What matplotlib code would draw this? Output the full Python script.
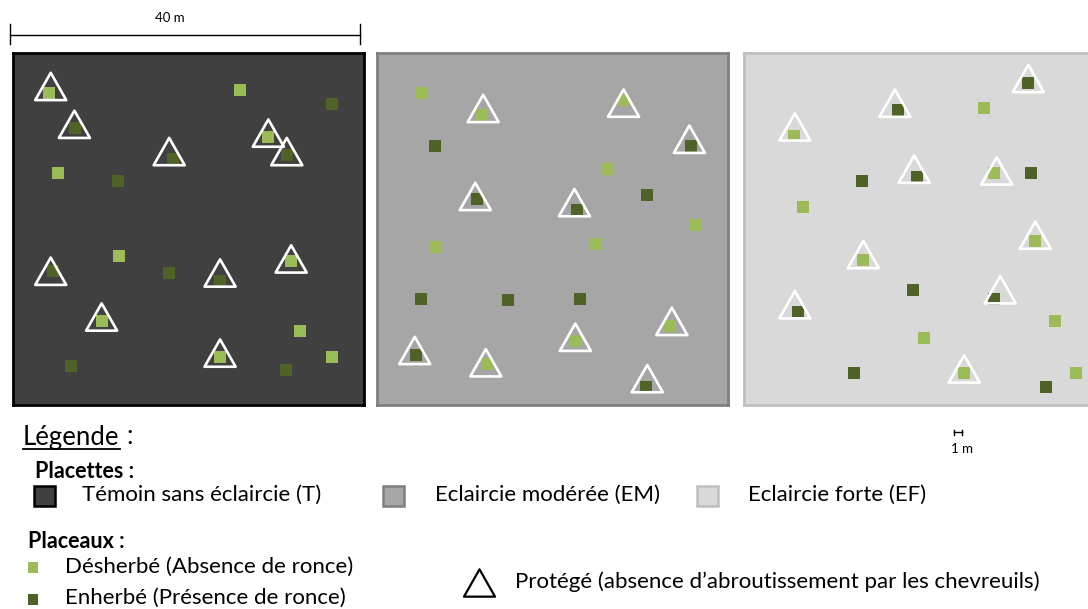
import matplotlib.pyplot as plt
from matplotlib.path import Path
from matplotlib.patches import Rectangle

plt.rcParams['font.family'] = ['Lato', 'DejaVu Sans']

W, H = 1088, 609

# placettes (one 40 m x 40 m square each)
plot_names = ['Témoin sans éclaircie (T)', 'Eclaircie modérée (EM)', 'Eclaircie forte (EF)']
plot_fill = ['#404040', '#a6a6a6', '#d9d9d9']
plot_edge = ['#000000', '#7f7f7f', '#bfbfbf']
plot_size = 40

# placeaux, in metres from the top-left corner of each placette
desherbe_x = [[4.1, 29.1, 31.7, 10.1, 23.6, 25.9, 5.1, 12.1, 32.7, 36.4],
              [11.9, 28.0, 33.4, 22.6, 12.7, 5.1, 26.2, 36.3, 6.6, 24.9],
              [5.7, 28.5, 33.2, 13.6, 25.1, 27.4, 6.7, 35.4, 20.5, 37.8]]
desherbe_y = [[4.6, 9.6, 23.6, 30.5, 34.5, 4.2, 13.6, 23.1, 31.6, 34.5],
              [7.0, 5.3, 31.0, 32.7, 35.3, 4.6, 13.2, 19.5, 22.1, 21.7],
              [9.4, 13.6, 21.4, 23.5, 36.4, 6.2, 17.5, 30.5, 32.4, 36.4]]
enherbe_x = [[7.1, 18.2, 31.2, 4.6, 23.6, 36.4, 12.0, 17.8, 6.6, 31.1],
             [35.8, 11.4, 22.8, 4.4, 30.6, 6.6, 30.8, 5.0, 14.9, 23.1],
             [32.4, 17.5, 19.7, 6.1, 28.5, 13.4, 32.7, 19.3, 12.5, 34.4]]
enherbe_y = [[8.5, 12.1, 11.6, 24.8, 25.9, 5.8, 14.6, 25.0, 35.6, 36.0],
             [10.6, 16.6, 17.8, 34.3, 37.9, 10.6, 16.1, 27.9, 28.1, 28.0],
             [3.4, 6.5, 14.1, 29.4, 27.9, 14.5, 13.6, 26.9, 36.4, 37.9]]
# protected placeaux (exclos), centre of each triangle
protege_x = [[4.3, 7.0, 17.8, 29.1, 31.2, 4.3, 23.6, 31.7, 10.1, 23.6],
             [12.1, 28.1, 35.6, 11.2, 22.5, 33.6, 22.6, 4.3, 12.4, 30.8],
             [32.4, 17.2, 5.8, 19.4, 28.8, 33.2, 13.6, 5.8, 29.2, 25.1]]
protege_y = [[3.8, 8.1, 11.2, 9.1, 11.2, 24.8, 25.0, 23.4, 30.0, 34.1],
             [6.3, 5.7, 9.8, 16.3, 17.0, 30.5, 32.3, 33.8, 35.2, 37.0],
             [2.9, 5.7, 8.4, 13.2, 13.4, 20.7, 22.9, 28.6, 26.9, 35.9]]

light_green = '#9bbb59'
dark_green = '#4f6228'

triangle = Path([(0, 0.88), (-1, -0.88), (1, -0.88), (0, 0.88)], closed=True)


def px_rect(x, y, w, h):
    return [x / W, 1 - (y + h) / H, w / W, h / H]


fig = plt.figure(figsize=(W / 100, H / 100), dpi=100)

# overlay in pixel units for the legend
lg = fig.add_axes([0, 0, 1, 1])
lg.set_xlim(0, W)
lg.set_ylim(H, 0)
lg.axis('off')

panel_left = [13, 377, 744]
axes = []
for i in range(3):
    ax = fig.add_axes(px_rect(panel_left[i], 53, 351, 352))
    ax.set_xlim(0, plot_size)
    ax.set_ylim(plot_size, 0)
    ax.set_facecolor(plot_fill[i])
    ax.set_xticks([])
    ax.set_yticks([])
    for sp in ax.spines.values():
        sp.set_color(plot_edge[i])
        sp.set_linewidth(2.0)
    ax.scatter(desherbe_x[i], desherbe_y[i], marker='s', s=78, color=light_green,
               linewidths=0, zorder=3)
    ax.scatter(enherbe_x[i], enherbe_y[i], marker='s', s=78, color=dark_green,
               linewidths=0, zorder=3)
    ax.scatter(protege_x[i], protege_y[i], marker=triangle, s=500,
               facecolors='none', edgecolors='white', linewidths=1.9, zorder=4)
    axes.append(ax)

# 40 m scale bar
ax = axes[0]
ax.plot([-0.3, 39.6], [-2.05, -2.05], color='black', lw=1, clip_on=False)
ax.plot([-0.3, -0.3], [-3.3, -1.0], color='black', lw=1, clip_on=False)
ax.plot([39.6, 39.6], [-3.3, -1.0], color='black', lw=1, clip_on=False)
ax.text(17.9, -4.0, '40 m', ha='center', va='center', fontsize=9.5, clip_on=False)

# 1 m scale bar
ax = axes[2]
ax.plot([23.9, 24.9], [43.1, 43.1], color='black', lw=1, clip_on=False)
ax.plot([23.9, 23.9], [42.8, 43.4], color='black', lw=1, clip_on=False)
ax.plot([24.9, 24.9], [42.8, 43.4], color='black', lw=1, clip_on=False)
ax.text(24.9, 45.0, '1 m', ha='center', va='center', fontsize=9.5, clip_on=False)

# legend
lg.text(23, 437, 'Légende', fontsize=18.5, ha='left', va='center')
lg.plot([23, 120], [449, 449], color='black', lw=1.3)
lg.text(126, 437, ':', fontsize=18.5, ha='left', va='center')
lg.text(35, 471, 'Placettes :', fontsize=15.5, fontweight='bold', ha='left', va='center')

sq_x = [34, 383, 697]
txt_x = [82, 435, 748]
for i in range(3):
    lg.add_patch(Rectangle((sq_x[i], 486), 21, 20, facecolor=plot_fill[i],
                           edgecolor=plot_edge[i], lw=1.8))
    lg.text(txt_x[i], 495, plot_names[i], fontsize=16, ha='left', va='center')

lg.text(28, 541, 'Placeaux :', fontsize=15.5, fontweight='bold', ha='left', va='center')
lg.add_patch(Rectangle((28, 562), 10, 11, facecolor=light_green, edgecolor='none'))
lg.text(65, 567, 'Désherbé (Absence de ronce)', fontsize=16, ha='left', va='center')
lg.add_patch(Rectangle((28, 594), 10, 11, facecolor=dark_green, edgecolor='none'))
lg.text(65, 598, 'Enherbé (Présence de ronce)', fontsize=16, ha='left', va='center')

lg.scatter([479.5], [583], marker=triangle, s=500, facecolors='none',
           edgecolors='black', linewidths=1.6)
lg.text(515, 582, 'Protégé (absence d\u2019abroutissement par les chevreuils)',
        fontsize=16, ha='left', va='center')

fig.savefig('out.png', dpi=100)
